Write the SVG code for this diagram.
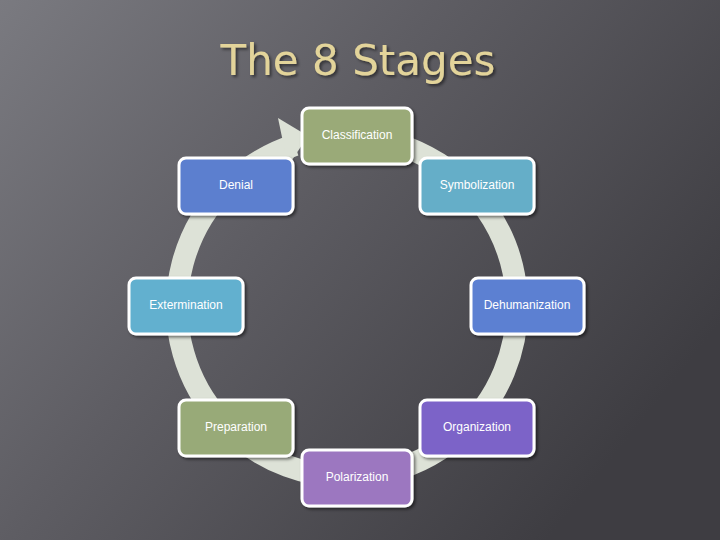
<svg xmlns="http://www.w3.org/2000/svg" width="720" height="540" viewBox="0 0 720 540">
<defs>
<linearGradient id="bg" x1="0" y1="0" x2="1" y2="0.6">
<stop offset="0" stop-color="#7a7a80"/><stop offset="0.45" stop-color="#5e5d63"/><stop offset="1" stop-color="#3e3d42"/>
</linearGradient>
<filter id="sh" x="-20%" y="-20%" width="140%" height="140%"><feDropShadow dx="2" dy="2" stdDeviation="1.5" flood-color="#000" flood-opacity="0.5"/></filter>
</defs>
<style>
.box{stroke:#fff;stroke-width:3;filter:url(#sh)}
.lbl{font-family:"Liberation Sans",Arial,sans-serif;font-size:12px;fill:#fff;text-anchor:middle;dominant-baseline:middle}
</style>
<rect width="720" height="540" fill="url(#bg)"/>
<text x="358" y="75" font-family="'DejaVu Sans',sans-serif" font-size="42" fill="#e3d49a" text-anchor="middle" filter="url(#sh)">The 8 Stages</text>
<g id="connectors">
<path d="M 340 137 A 170 170 0 1 1 295 145" fill="none" stroke="#dde2d7" stroke-width="22"/>
<polygon points="278,118 308,136 288,166" fill="#dde2d7"/>
</g>
<g id="classification"><rect class="box" x="302" y="108" width="110" height="56" rx="7" fill="#9aaa78"/><text class="lbl" x="357" y="136">Classification</text></g>
<g id="symbolization"><rect class="box" x="420" y="158" width="114" height="56" rx="7" fill="#65aec8"/><text class="lbl" x="477" y="186">Symbolization</text></g>
<g id="dehumanization"><rect class="box" x="471" y="278" width="113" height="56" rx="7" fill="#5c80d2"/><text class="lbl" x="527" y="306">Dehumanization</text></g>
<g id="organization"><rect class="box" x="420" y="400" width="114" height="56" rx="7" fill="#7c63c8"/><text class="lbl" x="477" y="428">Organization</text></g>
<g id="polarization"><rect class="box" x="302" y="450" width="110" height="56" rx="7" fill="#9c77c0"/><text class="lbl" x="357" y="478">Polarization</text></g>
<g id="preparation"><rect class="box" x="179" y="400" width="114" height="56" rx="7" fill="#98aa78"/><text class="lbl" x="236" y="428">Preparation</text></g>
<g id="extermination"><rect class="box" x="129" y="278" width="114" height="56" rx="7" fill="#62b0cf"/><text class="lbl" x="186" y="306">Extermination</text></g>
<g id="denial"><rect class="box" x="179" y="158" width="114" height="56" rx="7" fill="#5b7fcf"/><text class="lbl" x="236" y="186">Denial</text></g>
</svg>
